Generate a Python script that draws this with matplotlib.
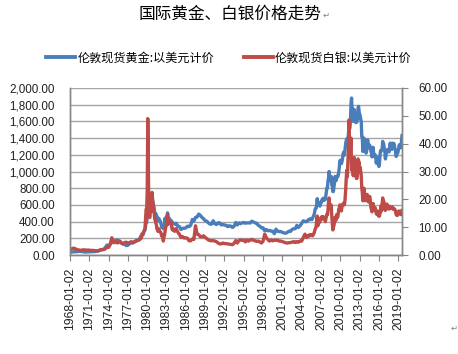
import matplotlib
matplotlib.use("Agg")
import matplotlib.pyplot as plt
from matplotlib.ticker import FuncFormatter, MultipleLocator
import pandas as pd

# ---------------- data ----------------
# Segment A: quarterly 1968Q1-1978Q4
gold_a = [35.2, 38, 39.5, 39.0, 42.5, 43, 41.5, 40.5, 35.0, 35.8, 35.3, 37.0,
          37.5, 39.0, 40.9, 42.5, 45.8, 49.0, 65.0, 64.0, 65.0, 90.0, 120.0, 100.0,
          130, 170, 145, 158, 180, 175, 165, 142, 130, 128, 112, 117,
          134, 149, 143, 160, 173, 178, 185, 225]
silver_a = [2.17, 2.45, 2.35, 2.0, 1.85, 1.75, 1.65, 1.85, 1.85, 1.75, 1.75, 1.75,
            1.65, 1.65, 1.60, 1.45, 1.55, 1.65, 1.75, 1.95, 2.05, 2.25, 2.85, 2.75,
            3.9, 6.2, 4.8, 5.0, 4.4, 4.4, 4.9, 4.3, 4.05, 4.5, 4.6, 4.35,
            4.35, 4.8, 4.5, 4.6, 4.95, 5.2, 5.4, 5.9]
# Segment B: monthly 1979-01 .. 1983-12
gold_b = [227, 245, 242, 240, 257, 280, 295, 300, 355, 390, 392, 455,
          800, 660, 550, 515, 515, 600, 645, 630, 675, 660, 620, 590,
          560, 500, 500, 495, 480, 460, 410, 410, 440, 435, 410, 410,
          385, 365, 330, 350, 335, 315, 340, 365, 440, 420, 410, 445,
          480, 505, 420, 430, 440, 415, 420, 415, 410, 390, 385, 385]
silver_b = [6.1, 7.5, 7.5, 7.7, 8.2, 8.6, 9.0, 9.8, 13.5, 16.5, 16.2, 23.0,
            49.0, 35.0, 17.0, 13.5, 13.5, 16.0, 15.7, 16.3, 22.5, 19.5, 18.0, 15.5,
            15.0, 13.0, 12.5, 11.5, 11.0, 9.5, 9.0, 8.5, 9.5, 9.3, 8.5, 8.3,
            8.2, 7.7, 6.8, 7.3, 6.3, 5.0, 6.2, 7.0, 8.0, 9.5, 10.3, 11.0,
            13.0, 14.7, 11.0, 12.0, 12.5, 11.5, 12.0, 12.0, 11.5, 9.5, 9.0, 9.5]
# Segment C: quarterly 1984Q1-2004Q4
gold_c = [370, 380, 345, 340, 305, 320, 320, 325, 345, 340, 355, 425,
          405, 450, 455, 490, 475, 450, 435, 410, 405, 385, 370, 370,
          410, 375, 365, 385, 385, 360, 365, 360, 355, 340, 350, 345,
          330, 345, 390, 360, 385, 375, 385, 390, 380, 385, 385, 383,
          405, 395, 385, 380, 355, 345, 325, 325, 290, 305, 290, 295,
          287, 285, 255, 310, 285, 280, 282, 270, 265, 260, 270, 285,
          282, 305, 315, 315, 355, 330, 350, 380, 410, 400, 400, 420]
silver_c = [8.5, 9.5, 8.2, 7.4, 6.3, 6.6, 6.1, 6.2, 6.0, 5.1, 5.1, 5.7,
            5.6, 10.5, 7.5, 7.3, 6.6, 6.5, 6.9, 6.3, 5.9, 5.4, 5.2, 5.1,
            5.2, 5.0, 4.8, 4.3, 4.0, 4.0, 4.3, 4.1, 4.1, 4.0, 3.9, 3.8,
            3.7, 4.2, 5.2, 4.3, 5.2, 5.4, 5.3, 5.3, 4.7, 5.4, 5.0, 5.4,
            5.6, 5.3, 5.1, 4.9, 5.0, 4.7, 4.3, 5.0, 7.5, 6.2, 5.5, 5.0,
            5.4, 5.1, 5.3, 5.3, 5.3, 5.0, 5.0, 4.8, 4.6, 4.4, 4.3, 4.4,
            4.5, 4.6, 4.8, 4.5, 4.8, 4.6, 5.0, 5.0, 6.3, 7.5, 6.3, 7.0]
# Segment D: monthly 2005-01 .. 2019-07
gold_d = [425, 422, 430, 430, 425, 435, 425, 438, 455, 470, 475, 510,
          550, 555, 560, 610, 675, 595, 635, 630, 600, 585, 625, 630,
          630, 665, 655, 680, 665, 655, 665, 665, 710, 755, 805, 805,
          890, 920, 1000, 910, 890, 890, 940, 840, 830, 760, 760, 815,
          860, 940, 920, 890, 930, 945, 935, 950, 995, 1040, 1125, 1135,
          1115, 1095, 1115, 1150, 1205, 1230, 1195, 1215, 1270, 1340, 1370, 1390,
          1355, 1375, 1430, 1530, 1520, 1520, 1620, 1820, 1880, 1700, 1750, 1600,
          1655, 1740, 1675, 1650, 1585, 1595, 1595, 1625, 1760, 1780, 1720, 1685,
          1670, 1630, 1595, 1420, 1415, 1240, 1285, 1400, 1350, 1315, 1275, 1220,
          1245, 1300, 1380, 1300, 1285, 1320, 1310, 1295, 1240, 1225, 1175, 1200,
          1290, 1230, 1180, 1200, 1200, 1180, 1100, 1135, 1125, 1170, 1085, 1060,
          1095, 1200, 1250, 1240, 1260, 1275, 1360, 1340, 1325, 1265, 1240, 1150,
          1190, 1235, 1230, 1265, 1245, 1260, 1235, 1285, 1340, 1280, 1280, 1265,
          1340, 1330, 1325, 1335, 1305, 1280, 1240, 1180, 1200, 1215, 1220, 1250,
          1290, 1320, 1300, 1285, 1285, 1360, 1430]
silver_d = [6.7, 7.0, 7.3, 7.1, 7.0, 7.3, 7.1, 6.9, 7.1, 7.6, 7.8, 8.6,
            9.3, 9.6, 10.5, 12.5, 14.0, 10.5, 11.2, 12.6, 11.7, 11.9, 13.0, 13.5,
            12.8, 13.8, 13.3, 13.8, 13.4, 13.1, 13.0, 12.0, 12.9, 13.8, 14.7, 14.5,
            16.0, 19.0, 20.5, 17.0, 17.0, 17.0, 18.0, 14.0, 11.5, 9.0, 9.8, 10.7,
            11.5, 13.5, 13.2, 12.5, 14.5, 14.0, 13.5, 14.5, 16.5, 16.8, 18.0, 17.5,
            17.8, 15.8, 17.2, 18.0, 18.4, 18.6, 18.0, 18.3, 20.5, 23.5, 27.5, 30.5,
            28.0, 32.5, 37.5, 48.5, 36.0, 35.5, 39.5, 42.0, 30.5, 33.0, 32.5, 28.5,
            30.5, 35.0, 32.5, 31.0, 28.5, 27.5, 27.5, 29.0, 34.5, 32.5, 33.5, 30.5,
            31.5, 30.0, 28.5, 24.0, 22.5, 19.5, 19.5, 24.0, 21.5, 21.5, 20.0, 19.5,
            19.5, 21.8, 20.0, 19.5, 19.0, 21.0, 21.0, 19.5, 17.0, 16.5, 15.5, 16.0,
            18.5, 16.5, 16.8, 16.2, 17.0, 15.8, 14.8, 14.8, 14.5, 15.8, 14.2, 13.9,
            14.0, 15.5, 15.4, 17.7, 16.0, 18.5, 20.5, 18.7, 19.3, 17.5, 16.5, 16.0,
            17.0, 18.2, 18.3, 17.2, 17.5, 16.5, 16.5, 17.5, 17.0, 17.0, 17.0, 17.0,
            17.3, 16.5, 16.4, 16.7, 16.4, 16.3, 15.6, 14.6, 14.3, 14.6, 14.3, 15.5,
            15.8, 15.8, 15.3, 15.0, 14.5, 15.3, 16.0]

gold_label = "伦敦现货黄金:以美元计价"
silver_label = "伦敦现货白银:以美元计价"
title = "国际黄金、白银价格走势"
tick_years = list(range(1968, 2020, 3))

dates = (list(pd.date_range("1968-01-02", periods=len(gold_a), freq="QS"))
         + list(pd.date_range("1979-01-02", periods=len(gold_b), freq="MS"))
         + list(pd.date_range("1984-01-02", periods=len(gold_c), freq="QS"))
         + list(pd.date_range("2005-01-02", periods=len(gold_d), freq="MS")))
dates = pd.DatetimeIndex(dates) + pd.Timedelta(days=1)
gold = gold_a + gold_b + gold_c + gold_d
silver = silver_a + silver_b + silver_c + silver_d

# ---------------- plot ----------------
plt.rcParams['font.family'] = ['Liberation Sans', 'DejaVu Sans']
W, H = 458, 354
fig = plt.figure(figsize=(W / 100, H / 100), dpi=100)
ax = fig.add_axes([70 / W, (H - 255) / H, 332 / W, 167 / H])
ax2 = ax.twinx()

blue = "#4a7ebb"
red = "#be4b48"
l1, = ax.plot(dates, gold, color=blue, lw=2.4, label=gold_label)
l2, = ax2.plot(dates, silver, color=red, lw=2.4, label=silver_label)

ax.set_ylim(0, 2000)
ax2.set_ylim(0, 60)
ax.yaxis.set_major_locator(MultipleLocator(200))
ax2.yaxis.set_major_locator(MultipleLocator(10))
fmt = FuncFormatter(lambda v, p: f"{v:,.2f}")
ax.yaxis.set_major_formatter(fmt)
ax2.yaxis.set_major_formatter(fmt)
ax.grid(axis='y', color="#a6a6a6", lw=1)
ax.set_axisbelow(True)

ax.set_xlim(pd.Timestamp("1968-01-02"), dates[-1])
ticks = [pd.Timestamp(f"{y}-01-02") for y in tick_years]
ax.set_xticks(ticks)
ax.set_xticklabels([t.strftime("%Y-%m-%d") for t in ticks], rotation=90, fontsize=8.8)

for a in (ax, ax2):
    a.spines['top'].set_visible(False)
    for s in ('left', 'right', 'bottom'):
        a.spines[s].set_color("#868686")
        a.spines[s].set_linewidth(1)
ax.tick_params(axis='y', length=0, pad=11, labelsize=8.4, colors="#222222")
ax.tick_params(axis='x', length=4, pad=5, color="#868686", labelcolor="#222222")
ax2.tick_params(axis='y', length=4, pad=8, labelsize=8.4, color="#868686", labelcolor="#222222")

cjk = ['Noto Sans CJK SC', 'DejaVu Sans']
fig.text(230 / W, 1 - 14 / H, title, family=cjk, fontsize=12, ha='center', va='center')
fig.text(326 / W, 1 - 15 / H, "↵", family='DejaVu Sans', fontsize=6, color="#808080",
         ha='center', va='center')
fig.text(454 / W, 1 - 328 / H, "↵", family='DejaVu Sans', fontsize=6, color="#808080",
         ha='center', va='center')

fig.legend([l1, l2], [gold_label, silver_label], loc='center',
           bbox_to_anchor=(229 / W, 1 - 58 / H), ncol=2, frameon=False,
           prop={'family': cjk, 'size': 8.7}, handlelength=2.4, handletextpad=0.2,
           columnspacing=2.4)
for h in fig.legends[0].legend_handles:
    h.set_linewidth(2.8)

fig.savefig("out.png", dpi=100)
